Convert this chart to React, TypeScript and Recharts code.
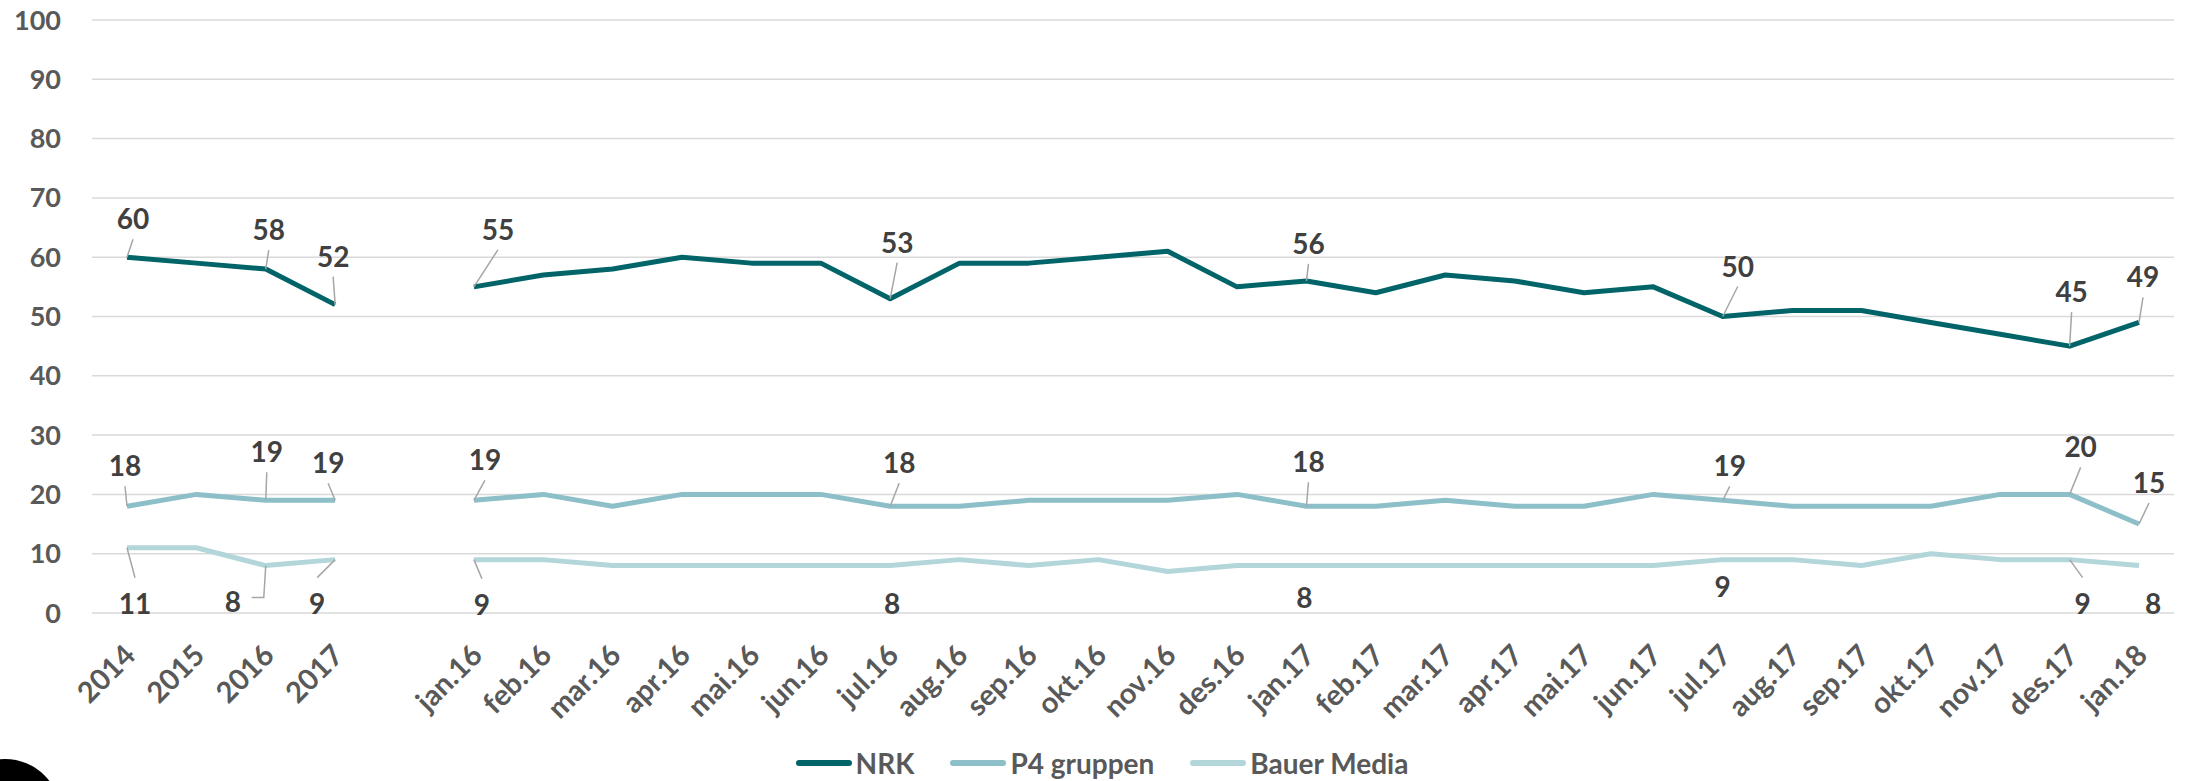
import React from 'react';
import { LineChart, Line, XAxis, YAxis, CartesianGrid, Legend, LabelList } from 'recharts';

const categories = [
  '2014', '2015', '2016', '2017', '',
  'jan.16', 'feb.16', 'mar.16', 'apr.16', 'mai.16', 'jun.16', 'jul.16', 'aug.16', 'sep.16', 'okt.16', 'nov.16', 'des.16',
  'jan.17', 'feb.17', 'mar.17', 'apr.17', 'mai.17', 'jun.17', 'jul.17', 'aug.17', 'sep.17', 'okt.17', 'nov.17', 'des.17',
  'jan.18',
];

const nrk = [
  60, 59, 58, 52, null,
  55, 57, 58, 60, 59, 59, 53, 59, 59, 60, 61, 55,
  56, 54, 57, 56, 54, 55, 50, 51, 51, 49, 47, 45,
  49,
];

const p4gruppen = [
  18, 20, 19, 19, null,
  19, 20, 18, 20, 20, 20, 18, 18, 19, 19, 19, 20,
  18, 18, 19, 18, 18, 20, 19, 18, 18, 18, 20, 20,
  15,
];

const bauerMedia = [
  11, 11, 8, 9, null,
  9, 9, 8, 8, 8, 8, 8, 9, 8, 9, 7, 8,
  8, 8, 8, 8, 8, 8, 9, 9, 8, 10, 9, 9,
  8,
];

const yTicks = [0, 10, 20, 30, 40, 50, 60, 70, 80, 90, 100];

const seriesNames = ['NRK', 'P4 gruppen', 'Bauer Media'];
const seriesColors = ['#006468', '#8DBFC9', '#B2D6DA'];

// label placement (layout only): index, text offset from point, leader style
type LabelCfg = { i: number; dx: number; dy: number; leader: 'line' | 'none' | 'elbow' };

const nrkLabels: LabelCfg[] = [
  { i: 0, dx: 6, dy: -39, leader: 'line' },
  { i: 2, dx: 3, dy: -40, leader: 'line' },
  { i: 3, dx: -2, dy: -49, leader: 'line' },
  { i: 5, dx: 24, dy: -58, leader: 'line' },
  { i: 11, dx: 7, dy: -57, leader: 'line' },
  { i: 17, dx: 2, dy: -38, leader: 'line' },
  { i: 23, dx: 15, dy: -51, leader: 'line' },
  { i: 28, dx: 2, dy: -55, leader: 'line' },
  { i: 29, dx: 4, dy: -46, leader: 'line' },
];

const p4Labels: LabelCfg[] = [
  { i: 0, dx: -2, dy: -41, leader: 'line' },
  { i: 2, dx: 1, dy: -49, leader: 'line' },
  { i: 3, dx: -7, dy: -38, leader: 'line' },
  { i: 5, dx: 11, dy: -41, leader: 'line' },
  { i: 11, dx: 9, dy: -44, leader: 'line' },
  { i: 17, dx: 2, dy: -45, leader: 'line' },
  { i: 23, dx: 7, dy: -35, leader: 'line' },
  { i: 28, dx: 11, dy: -48, leader: 'line' },
  { i: 29, dx: 10, dy: -42, leader: 'line' },
];

const bauerLabels: LabelCfg[] = [
  { i: 0, dx: 8, dy: 55, leader: 'line' },
  { i: 2, dx: -33, dy: 35, leader: 'elbow' },
  { i: 3, dx: -18, dy: 43, leader: 'line' },
  { i: 5, dx: 8, dy: 44, leader: 'line' },
  { i: 11, dx: 2, dy: 37, leader: 'none' },
  { i: 17, dx: -2, dy: 31, leader: 'none' },
  { i: 23, dx: 0, dy: 26, leader: 'none' },
  { i: 28, dx: 13, dy: 43, leader: 'line' },
  { i: 29, dx: 14, dy: 37, leader: 'none' },
];

const data = categories.map((c, idx) => ({
  cat: c,
  nrk: nrk[idx],
  p4: p4gruppen[idx],
  bauer: bauerMedia[idx],
}));

const FONT = 'Lato, "Open Sans", sans-serif';

const makeLabel = (cfgs: LabelCfg[]) => (props: any) => {
  const idx = props.index;
  const cfg = cfgs.find((c) => c.i === idx);
  if (!cfg) return null;
  const value = props.value;
  if (value === null || value === undefined) return null;
  const px = props.x ?? props.viewBox?.x;
  const py = props.y ?? props.viewBox?.y;
  if (px == null || py == null) return null;
  const tx = px + cfg.dx;
  const ty = py + cfg.dy;
  let leader: React.ReactNode = null;
  if (cfg.leader === 'line') {
    const sy = cfg.dy < 0 ? ty + 21 : ty - 25;
    leader = <line x1={tx} y1={sy} x2={px} y2={py} stroke="#A6A6A6" strokeWidth={1.5} />;
  } else if (cfg.leader === 'elbow') {
    const sy = ty - 3;
    leader = (
      <polyline
        points={`${tx + 19},${sy} ${px - 2},${sy} ${px},${py}`}
        fill="none"
        stroke="#A6A6A6"
        strokeWidth={1.5}
      />
    );
  }
  return (
    <g key={`lbl-${idx}`}>
      {leader}
      <text
        x={tx}
        y={ty}
        textAnchor="middle"
        dominantBaseline="central"
        fontFamily={FONT}
        fontWeight={700}
        fontSize={28}
        fill="#404040"
      >
        {value}
      </text>
    </g>
  );
};

const XTick = (props: any) => {
  const { x, y, payload } = props;
  if (!payload || !payload.value) return null;
  return (
    <text
      x={x + 2}
      y={y}
      transform={`rotate(-45, ${x + 2}, ${y})`}
      textAnchor="end"
      dominantBaseline="central"
      fontFamily={FONT}
      fontWeight={700}
      fontSize={29}
      fill="#595959"
    >
      {payload.value}
    </text>
  );
};

const LegendContent = () => (
  <div
    style={{
      height: 44,
      display: 'flex',
      justifyContent: 'center',
      alignItems: 'center',
      paddingLeft: 16,
      paddingTop: 8,
      boxSizing: 'border-box',
      fontFamily: FONT,
      fontWeight: 700,
      fontSize: 28,
      color: '#595959',
    }}
  >
    {seriesNames.map((name, k) => (
      <div key={name} style={{ display: 'flex', alignItems: 'center', marginRight: k < seriesNames.length - 1 ? 36 : 0 }}>
        <svg width={56} height={10} style={{ marginRight: 4 }}>
          <line x1={3} y1={5} x2={53} y2={5} stroke={seriesColors[k]} strokeWidth={6} strokeLinecap="round" />
        </svg>
        <span>{name}</span>
      </div>
    ))}
  </div>
);

export default function App() {
  return (
    <div
      style={{
        position: 'absolute',
        left: 0,
        top: 0,
        width: 2188,
        height: 781,
        overflow: 'hidden',
        background: '#fff',
      }}
    >
      <LineChart width={2188} height={781} data={data} margin={{ top: 20, right: 14, left: 0, bottom: 0 }}>
        <CartesianGrid vertical={false} stroke="#D9D9D9" strokeWidth={1.5} />
        <XAxis
          dataKey="cat"
          interval={0}
          padding={{ left: 35, right: 35 }}
          axisLine={false}
          tickLine={false}
          tickSize={0}
          tickMargin={36}
          height={124}
          tick={<XTick />}
        />
        <YAxis
          domain={[0, 100]}
          ticks={yTicks}
          width={92}
          axisLine={false}
          tickLine={false}
          tickSize={0}
          tickMargin={31}
          tick={{ fontFamily: FONT, fontWeight: 700, fontSize: 27, fill: '#595959' }}
        />
        <Legend verticalAlign="bottom" content={<LegendContent />} wrapperStyle={{ left: 0, width: 2188 }} />
        <Line
          name={seriesNames[2]}
          dataKey="bauer"
          stroke={seriesColors[2]}
          strokeWidth={5}
          strokeLinejoin="round"
          dot={false}
          activeDot={false}
          connectNulls={false}
          isAnimationActive={false}
        >
          <LabelList dataKey="bauer" content={makeLabel(bauerLabels)} />
        </Line>
        <Line
          name={seriesNames[1]}
          dataKey="p4"
          stroke={seriesColors[1]}
          strokeWidth={5}
          strokeLinejoin="round"
          dot={false}
          activeDot={false}
          connectNulls={false}
          isAnimationActive={false}
        >
          <LabelList dataKey="p4" content={makeLabel(p4Labels)} />
        </Line>
        <Line
          name={seriesNames[0]}
          dataKey="nrk"
          stroke={seriesColors[0]}
          strokeWidth={5}
          strokeLinejoin="round"
          dot={false}
          activeDot={false}
          connectNulls={false}
          isAnimationActive={false}
        >
          <LabelList dataKey="nrk" content={makeLabel(nrkLabels)} />
        </Line>
      </LineChart>
      <div
        style={{
          position: 'absolute',
          left: -51,
          top: 759,
          width: 112,
          height: 112,
          borderRadius: '50%',
          background: '#000',
        }}
      />
    </div>
  );
}
